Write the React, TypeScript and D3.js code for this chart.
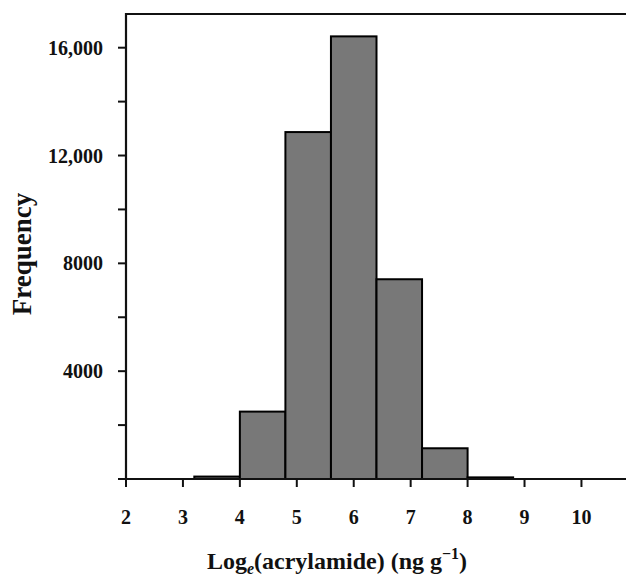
import React from 'react';
import * as d3 from 'd3';

// histogram bins (log_e acrylamide), width 0.8
const binStarts = [3.2, 4.0, 4.8, 5.6, 6.4, 7.2, 8.0];
const binWidth = 0.8;
const counts = [90, 2500, 12870, 16420, 7410, 1140, 60];

const xTicks = [2, 3, 4, 5, 6, 7, 8, 9, 10];
const yMajor = [4000, 8000, 12000, 16000];
const yMinor = [2000, 6000, 10000, 14000];

const W = 626;
const H = 577;
const left = 126;
const right = 627;
const top = 14;
const bottom = 479;

const font = '"Liberation Serif", "Times New Roman", serif';

const fmt = (v: number) => (v >= 10000 ? d3.format(',')(v) : String(v));

const App: React.FC = () => {
  const x = d3.scaleLinear().domain([2, 10.8]).range([left, right]);
  const y = d3.scaleLinear().domain([0, 17250]).range([bottom, top]);

  return (
    <svg width={W} height={H} style={{ position: 'absolute', left: 0, top: 0 }}>
      <rect width={W} height={H} fill="#fff" />
      {/* bars */}
      {binStarts.map((s, i) => (
        <rect
          key={s}
          x={x(s)}
          y={y(counts[i])}
          width={x(s + binWidth) - x(s)}
          height={y(0) - y(counts[i])}
          fill="#787878"
          stroke="#000"
          strokeWidth={2}
        />
      ))}
      {/* frame */}
      <line x1={left} x2={right} y1={top} y2={top} stroke="#111" strokeWidth={2.2} />
      <line x1={left} x2={left} y1={top - 1} y2={bottom} stroke="#111" strokeWidth={2.2} />
      <line x1={left - 8} x2={right} y1={bottom} y2={bottom} stroke="#111" strokeWidth={2.2} />
      {/* y ticks */}
      {[...yMajor, ...yMinor].map((v) => (
        <line key={v} x1={left - 8} x2={left} y1={y(v)} y2={y(v)} stroke="#111" strokeWidth={2} />
      ))}
      {yMajor.map((v) => (
        <text
          key={v}
          x={103}
          y={y(v)}
          dy="0.35em"
          textAnchor="end"
          fontFamily={font}
          fontWeight="bold"
          fontSize={20}
          fill="#111"
        >
          {fmt(v)}
        </text>
      ))}
      {/* x ticks */}
      {xTicks.map((v) => (
        <g key={v}>
          <line x1={x(v)} x2={x(v)} y1={bottom} y2={bottom + 8} stroke="#111" strokeWidth={2} />
          <text
            x={x(v)}
            y={524}
            textAnchor="middle"
            fontFamily={font}
            fontWeight="bold"
            fontSize={20}
            fill="#111"
          >
            {v}
          </text>
        </g>
      ))}
      {/* axis titles */}
      <text
        x={337}
        y={569}
        textAnchor="middle"
        fontFamily={font}
        fontWeight="bold"
        fontSize={24}
        fill="#111"
      >
        Log
        <tspan fontStyle="italic" fontSize={16} dy={5}>e</tspan>
        <tspan dy={-5}>(acrylamide) (ng g</tspan>
        <tspan fontSize={16} dy={-10}>−1</tspan>
        <tspan dy={10}>)</tspan>
      </text>
      <text
        transform={`translate(31,254) rotate(-90)`}
        textAnchor="middle"
        fontFamily={font}
        fontWeight="bold"
        fontSize={27}
        fill="#111"
      >
        Frequency
      </text>
    </svg>
  );
};

export default App;
